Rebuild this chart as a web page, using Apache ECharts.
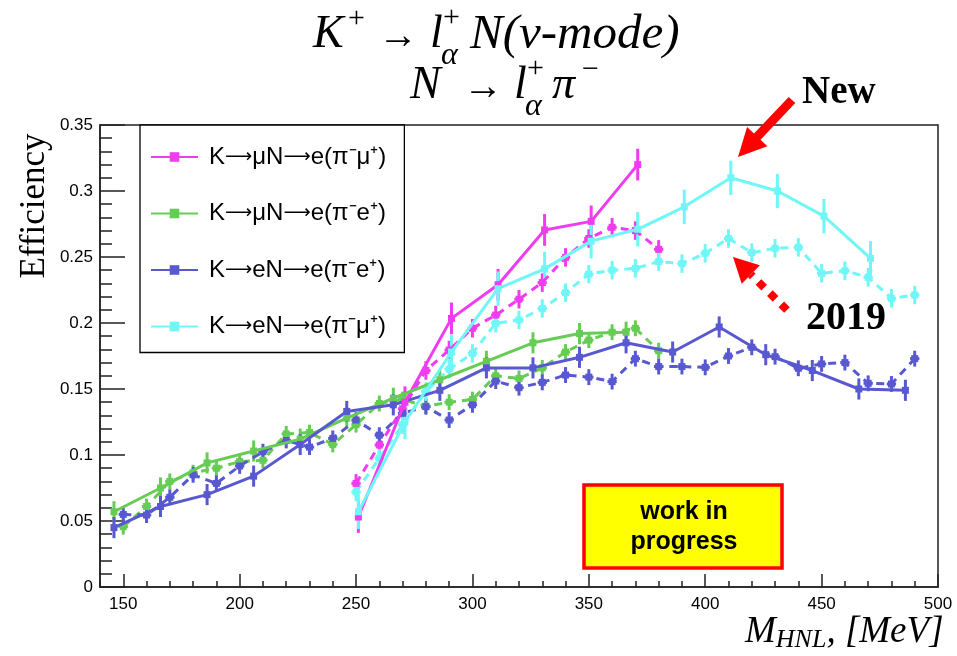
<!DOCTYPE html>
<html>
<head>
<meta charset="utf-8">
<script src="https://cdn.jsdelivr.net/npm/echarts@6/dist/echarts.min.js"></script>
<style>
  html, body { margin: 0; padding: 0; background: #fff; }
  #chart { width: 957px; height: 656px; }
</style>
</head>
<body>
<div id="chart"></div>
<script>
// HNL mass [MeV] and efficiencies, new (solid) and 2019 (dashed)
const magentaNewX = [251, 271, 291, 311, 331, 351, 371];
const magentaNewY = [0.053, 0.140, 0.2035, 0.229, 0.2705, 0.277, 0.320];
const greenNewX = [146, 166, 186, 206, 226, 246, 266, 286, 306, 326, 346, 366];
const greenNewY = [0.057, 0.075, 0.094, 0.103, 0.112, 0.128, 0.143, 0.157, 0.171, 0.185, 0.192, 0.193];
const blueNewX = [146, 166, 186, 206, 226, 246, 266, 286, 306, 326, 346, 366, 386, 406, 426, 446, 466, 486];
const blueNewY = [0.045, 0.061, 0.070, 0.084, 0.108, 0.133, 0.138, 0.149, 0.166, 0.166, 0.174, 0.185, 0.178, 0.197, 0.176, 0.164, 0.150, 0.149];
const cyanNewX = [251, 271, 291, 311, 331, 351, 371, 391, 411, 431, 451, 471];
const cyanNewY = [0.057, 0.125, 0.178, 0.226, 0.241, 0.262, 0.271, 0.288, 0.310, 0.300, 0.281, 0.249];

const magentaOldX = [250, 260, 270, 280, 290, 300, 310, 320, 330, 340, 350, 360, 370, 380];
const magentaOldY = [0.0785, 0.1076, 0.135, 0.164, 0.1795, 0.196, 0.206, 0.218, 0.2306, 0.2497, 0.264, 0.2725, 0.270, 0.2558];
const greenOldX = [150, 160, 170, 180, 190, 200, 210, 220, 230, 240, 250, 260, 270, 280, 290, 300, 310, 320, 330, 340, 350, 360, 370, 380];
const greenOldY = [0.0457, 0.061, 0.080, 0.0866, 0.090, 0.095, 0.096, 0.116, 0.117, 0.108, 0.123, 0.139, 0.142, 0.137, 0.140, 0.142, 0.160, 0.158, 0.166, 0.178, 0.187, 0.193, 0.196, 0.179];
const blueOldX = [150, 160, 170, 180, 190, 200, 210, 220, 230, 240, 250, 260, 270, 280, 290, 300, 310, 320, 330, 340, 350, 360, 370, 380, 390, 400, 410, 420, 430, 440, 450, 460, 470, 480, 490];
const blueOldY = [0.055, 0.0545, 0.068, 0.085, 0.0785, 0.0917, 0.1025, 0.111, 0.106, 0.1126, 0.1265, 0.115, 0.1316, 0.1366, 0.1265, 0.138, 0.156, 0.151, 0.155, 0.1606, 0.159, 0.1556, 0.173, 0.167, 0.167, 0.1664, 0.175, 0.1816, 0.1745, 0.1657, 0.169, 0.170, 0.1543, 0.1538, 0.173];
const cyanOldX = [250, 260, 270, 280, 290, 300, 310, 320, 330, 340, 350, 360, 370, 380, 390, 400, 410, 420, 430, 440, 450, 460, 470, 480, 490];
const cyanOldY = [0.072, 0.0975, 0.123, 0.148, 0.165, 0.177, 0.1998, 0.2023, 0.211, 0.223, 0.237, 0.240, 0.2414, 0.2465, 0.245, 0.2528, 0.264, 0.2533, 0.2566, 0.2573, 0.2376, 0.2396, 0.2346, 0.2187, 0.2212];

// y error per series (solid / dashed), x half-width for the dashed points
const errNew = [0.012, 0.008, 0.008, 0.013];
const errOld = [0.007, 0.006, 0.006, 0.007];
const xErrOld = 2;

const legendNames = ["K→μN→e(π⁻μ⁺)", "K→μN→e(π⁻e⁺)", "K→eN→e(π⁻e⁺)", "K→eN→e(π⁻μ⁺)"];
const colors = ["#f03cf0", "#66cc55", "#5858d0", "#6ff6f6"];
const xTicks = [150, 200, 250, 300, 350, 400, 450, 500];

const chart = echarts.init(document.getElementById("chart"));

const pts = (xs, ys) => xs.map((x, i) => [x, ys[i]]);

const newSets = [pts(magentaNewX, magentaNewY), pts(greenNewX, greenNewY), pts(blueNewX, blueNewY), pts(cyanNewX, cyanNewY)];
const oldSets = [pts(magentaOldX, magentaOldY), pts(greenOldX, greenOldY), pts(blueOldX, blueOldY), pts(cyanOldX, cyanOldY)];

function errSeries(data, color, ey, ex) {
  return {
    type: "custom",
    silent: true,
    z: 3,
    renderItem: (params, api) => {
      const x = api.value(0), y = api.value(1);
      const top = api.coord([x, y + ey]);
      const bot = api.coord([x, y - ey]);
      const children = [{
        type: "line",
        shape: { x1: top[0], y1: top[1], x2: bot[0], y2: bot[1] },
        style: { stroke: color, lineWidth: 3 },
      }];
      if (ex) {
        const l = api.coord([x - ex, y]);
        const r = api.coord([x + ex, y]);
        children.push({
          type: "line",
          shape: { x1: l[0], y1: l[1], x2: r[0], y2: r[1] },
          style: { stroke: color, lineWidth: 3 },
        });
      }
      return { type: "group", children };
    },
    data: data,
  };
}

const series = [];
oldSets.forEach((d, i) => {
  series.push({
    name: legendNames[i] + " 2019",
    type: "line",
    data: d,
    symbol: "rect",
    symbolSize: 7,
    itemStyle: { color: colors[i] },
    lineStyle: { color: colors[i], width: 3, type: [8, 6] },
    z: 4,
    animation: false,
  });
  series.push(errSeries(d, colors[i], errOld[i], xErrOld));
});
newSets.forEach((d, i) => {
  series.push({
    name: legendNames[i],
    type: "line",
    data: d,
    symbol: "rect",
    symbolSize: 7,
    itemStyle: { color: colors[i] },
    lineStyle: { color: colors[i], width: 3 },
    z: 5,
    animation: false,
  });
  series.push(errSeries(d, colors[i], errNew[i], 0));
});

// arrow polygon helper for the annotations
function arrowPts(tail, tip, headLen, headHalf, shaftHalf) {
  const dx = tip[0] - tail[0], dy = tip[1] - tail[1];
  const len = Math.hypot(dx, dy);
  const ux = dx / len, uy = dy / len;
  const nx = -uy, ny = ux;
  const bx = tip[0] - ux * headLen, by = tip[1] - uy * headLen;
  return {
    body: [
      [tail[0] + nx * shaftHalf, tail[1] + ny * shaftHalf],
      [bx + nx * shaftHalf, by + ny * shaftHalf],
      [bx + nx * headHalf, by + ny * headHalf],
      tip,
      [bx - nx * headHalf, by - ny * headHalf],
      [bx - nx * shaftHalf, by - ny * shaftHalf],
      [tail[0] - nx * shaftHalf, tail[1] - ny * shaftHalf],
    ],
    head: [[bx + nx * headHalf, by + ny * headHalf], tip, [bx - nx * headHalf, by - ny * headHalf]],
    base: [bx, by],
  };
}
const newArrow = arrowPts([792, 100], [738, 157], 28, 14, 4.5);
const oldArrow = arrowPts([787, 310], [733, 257], 25, 13, 4);

const serif = "Liberation Serif";
const t = (x, y, text, size, extra) => ({
  type: "text",
  x: x,
  y: y,
  style: Object.assign({
    text: text,
    fontFamily: serif,
    fontSize: size,
    fontStyle: "italic",
    fill: "#000",
    verticalAlign: "middle",
  }, extra || {}),
});
const up = { fontStyle: "normal" };

const option = {
  backgroundColor: "#fff",
  animation: false,
  grid: { left: 100, right: 19, top: 125, bottom: 69, show: true, borderColor: "#222", borderWidth: 1.5, backgroundColor: "transparent" },
  legend: {
    data: legendNames,
    orient: "vertical",
    left: 140,
    top: 125,
    itemWidth: 47,
    itemHeight: 12,
    itemGap: 32.5,
    padding: [20, 18, 14, 10],
    borderColor: "#000",
    borderWidth: 1.3,
    backgroundColor: "#fff",
    selectedMode: false,
    formatter: (name) => name.split("→").map((p) => "{a|" + p + "}").join("{r|⟶}"),
    textStyle: {
      color: "#000",
      padding: [0, 0, 0, 6],
      rich: {
        a: { fontFamily: "Liberation Sans", fontSize: 24, lineHeight: 26, color: "#000" },
        r: { fontFamily: "DejaVu Sans", fontSize: 19, lineHeight: 26, color: "#000" },
      },
    },
  },
  xAxis: [
    {
      type: "value",
      min: 140,
      max: 500,
      axisLine: { show: true, lineStyle: { color: "#222", width: 1.5 } },
      axisTick: { show: true, inside: true, length: 13, customValues: xTicks, lineStyle: { color: "#222", width: 1.5 } },
      axisLabel: { customValues: xTicks, color: "#000", fontFamily: "Liberation Sans", fontSize: 17, margin: 9 },
      splitLine: { show: false },
    },
    {
      type: "value",
      min: 140,
      max: 500,
      interval: 10,
      position: "bottom",
      axisLine: { show: false },
      axisTick: { show: true, inside: true, length: 6, lineStyle: { color: "#222", width: 1.5 } },
      axisLabel: { show: false },
      splitLine: { show: false },
    },
  ],
  yAxis: {
    type: "value",
    min: 0,
    max: 0.35,
    interval: 0.05,
    axisLine: { show: true, lineStyle: { color: "#222", width: 1.5 } },
    axisTick: { show: true, inside: true, length: 25, lineStyle: { color: "#222", width: 1.5 } },
    minorTick: { show: true, splitNumber: 5, length: 12, lineStyle: { color: "#222", width: 1.5 } },
    axisLabel: { color: "#000", fontFamily: "Liberation Sans", fontSize: 17, margin: 7 },
    splitLine: { show: false },
  },
  series: series,
  graphic: [
    // title line 1
    t(313, 35, "K", 46),
    t(348, 19, "+", 30, up),
    t(378, 37, "→", 40, up),
    t(430, 35, "l", 46),
    t(443, 18, "+", 30, up),
    t(441, 56, "α", 32),
    t(470, 35, "N(ν-mode)", 49),
    // title line 2
    t(410, 86, "N", 46),
    t(463, 88, "→", 40, up),
    t(514, 86, "l", 46),
    t(527, 69, "+", 30, up),
    t(525, 107, "α", 32),
    t(552, 86, "π", 46),
    t(582, 70, "−", 30, up),
    // axis titles
    {
      type: "text",
      x: 35,
      y: 206,
      rotation: Math.PI / 2,
      style: { text: "Efficiency", fontFamily: serif, fontSize: 35, fill: "#000", align: "center", verticalAlign: "middle" },
    },
    {
      type: "text",
      x: 745,
      y: 632,
      style: {
        text: "{i|M}{s|HNL}{i|, [MeV]}",
        verticalAlign: "middle",
        rich: {
          i: { fontFamily: serif, fontStyle: "italic", fontSize: 37, lineHeight: 42, fill: "#000", verticalAlign: "middle" },
          s: { fontFamily: serif, fontStyle: "italic", fontSize: 26, lineHeight: 42, fill: "#000", verticalAlign: "bottom" },
        },
      },
    },
    // annotations
    { type: "text", x: 802, y: 93, style: { text: "New", fontFamily: serif, fontWeight: "bold", fontSize: 39, fill: "#000", verticalAlign: "middle" } },
    { type: "text", x: 806, y: 319, style: { text: "2019", fontFamily: serif, fontWeight: "bold", fontSize: 40, fill: "#000", verticalAlign: "middle" } },
    { type: "polygon", shape: { points: newArrow.body }, style: { fill: "#f00" } },
    {
      type: "line",
      shape: { x1: 787, y1: 310, x2: oldArrow.base[0], y2: oldArrow.base[1] },
      style: { stroke: "#f00", lineWidth: 8, lineDash: [8, 8] },
    },
    { type: "polygon", shape: { points: oldArrow.head }, style: { fill: "#f00" } },
    // work in progress box
    { type: "rect", shape: { x: 584, y: 485, width: 198, height: 83 }, style: { fill: "#ffff00", stroke: "#f00", lineWidth: 3.5 } },
    {
      type: "text",
      x: 684,
      y: 527,
      style: { text: "work in\nprogress", fontFamily: "Liberation Sans", fontWeight: "bold", fontSize: 25, lineHeight: 30, fill: "#000", align: "center", verticalAlign: "middle" },
    },
  ],
};

chart.setOption(option);
</script>
</body>
</html>
